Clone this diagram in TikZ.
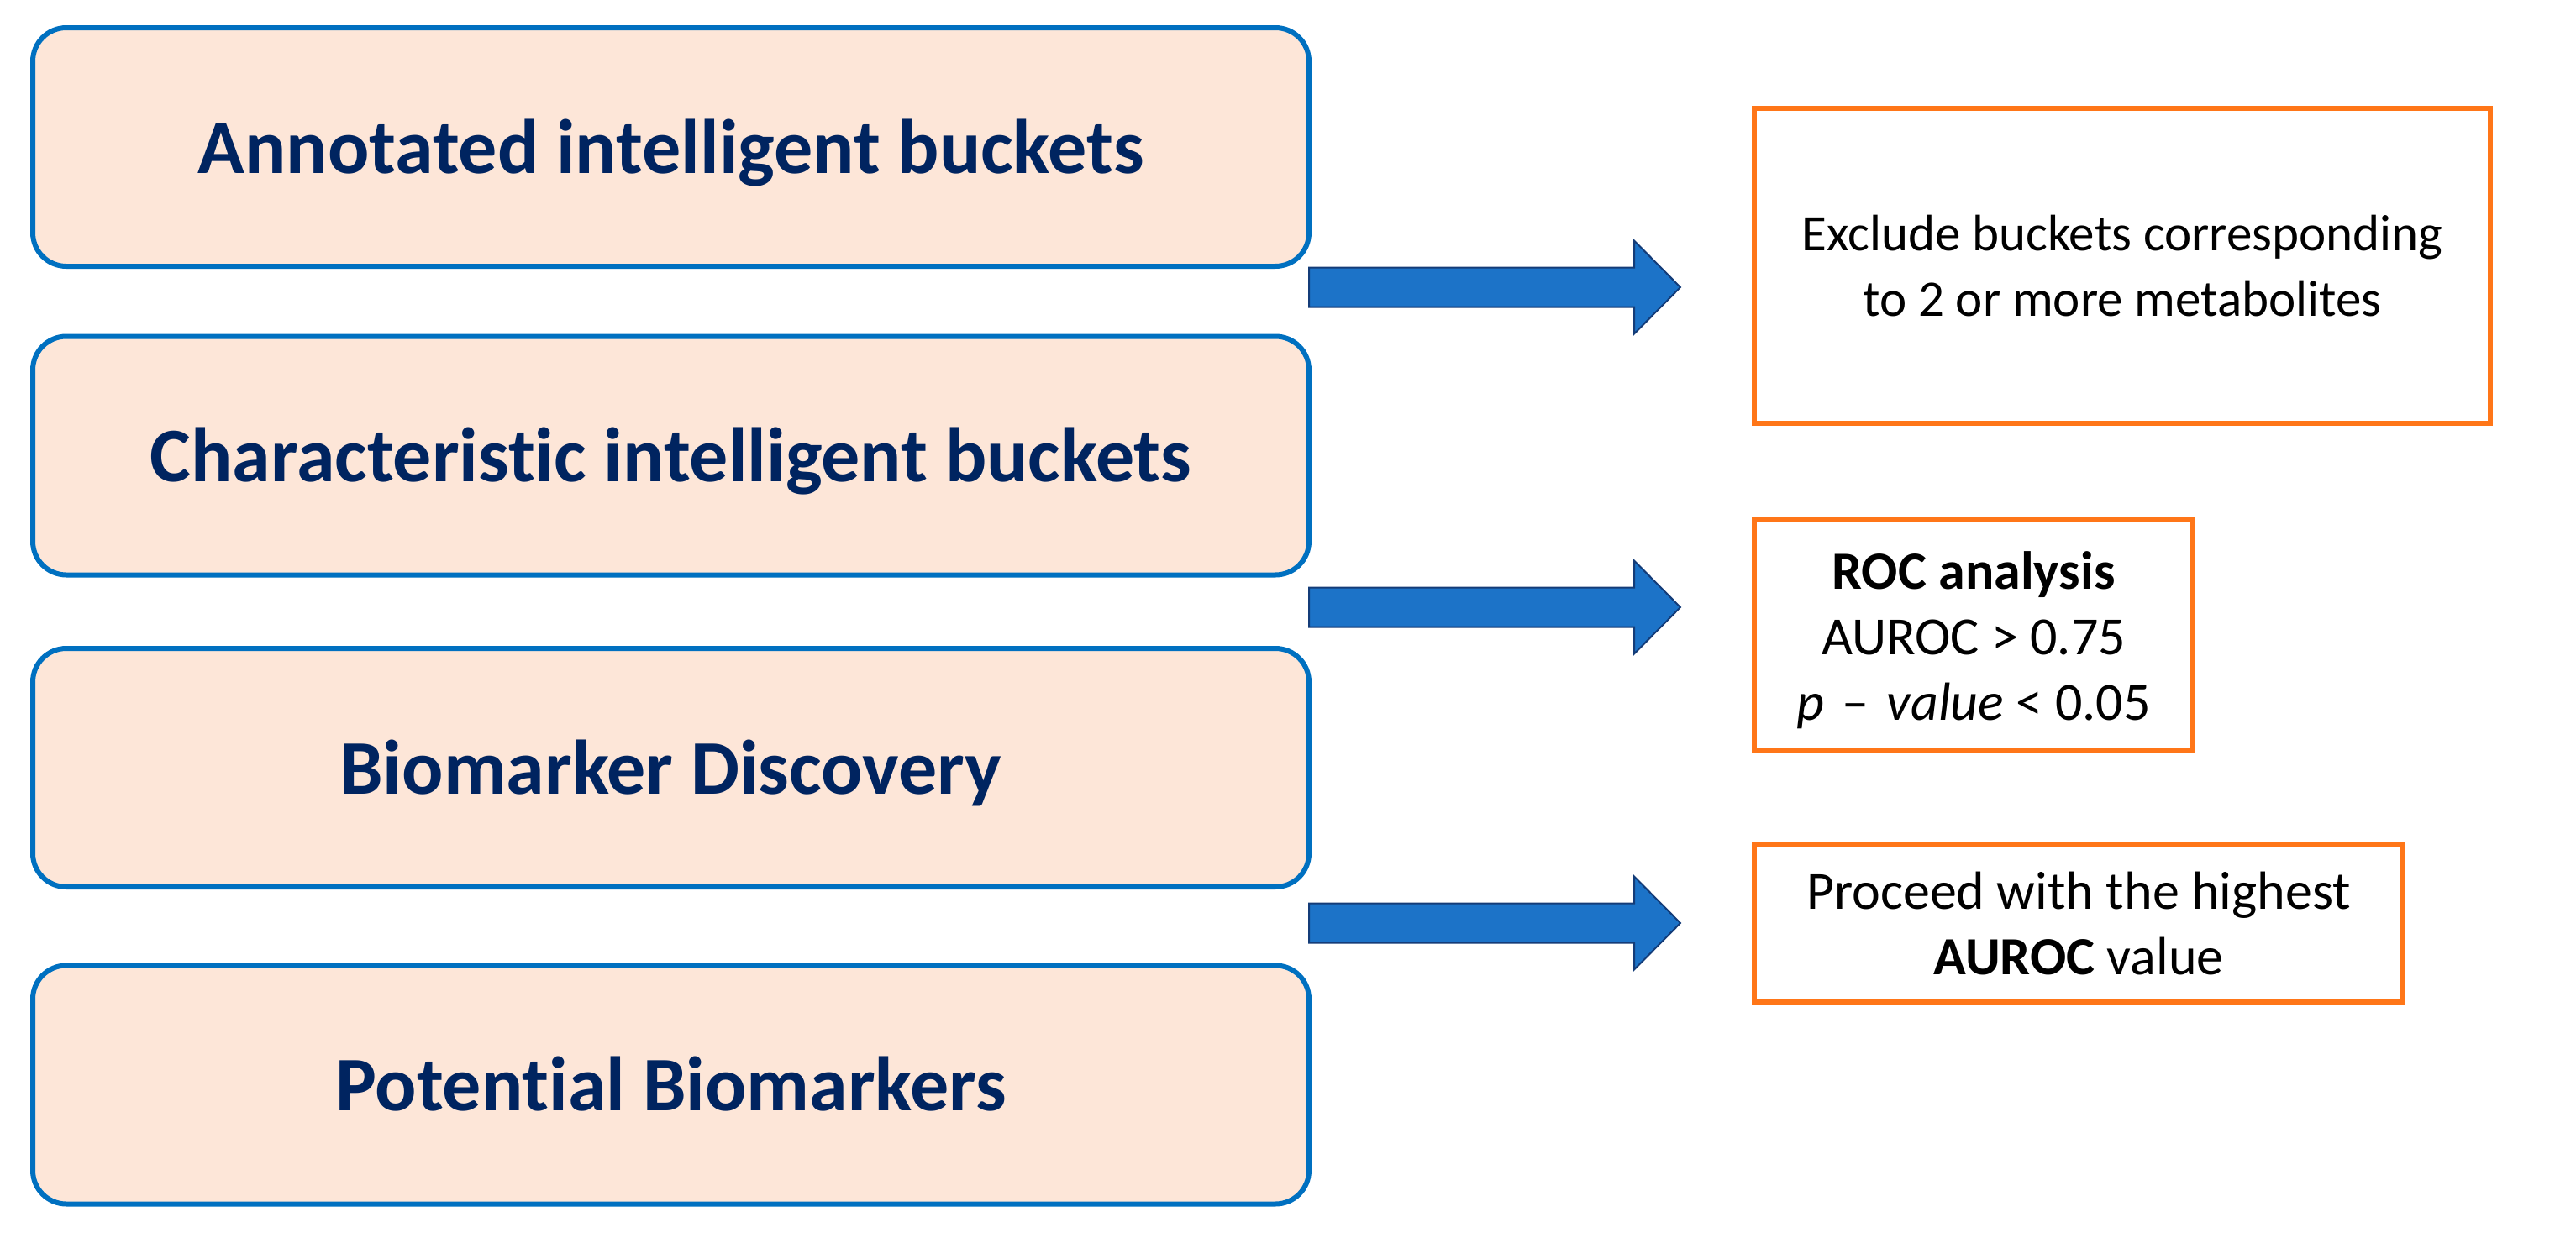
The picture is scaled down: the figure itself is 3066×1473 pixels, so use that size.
\documentclass[tikz,border=0pt]{standalone}
\usepackage{fontspec}
\setmainfont{Carlito}[Ligatures=NoCommon]
\definecolor{boxblue}{RGB}{0,112,192}
\definecolor{boxfill}{RGB}{253,230,216}
\definecolor{navy}{RGB}{0,36,96}
\definecolor{orng}{RGB}{255,118,24}
\definecolor{arrfill}{RGB}{28,115,200}
\definecolor{arrline}{RGB}{20,60,120}
\begin{document}
\begin{tikzpicture}[x=1pt,y=-1pt,
  stagebox/.style={draw=boxblue, line width=6pt, fill=boxfill, rounded corners=40pt,
    minimum width=1519pt, minimum height=284pt, inner sep=0pt, text=navy,
    text height=76pt, text depth=14pt,
    font=\fontsize{92}{110}\selectfont\bfseries},
  notebox/.style={draw=orng, line width=6pt, fill=white, inner sep=0pt, align=center,
    font=\fontsize{64}{78}\selectfont},
  blockarrow/.style={fill=arrfill, draw=arrline, line width=2pt}]
\useasboundingbox (0,0) rectangle (3066,1473);
\node[stagebox] (s1) at (798.5,175) {Annotated intelligent buckets};
\node[stagebox] (s2) at (798.5,542.5) {Characteristic intelligent buckets};
\node[stagebox] (s3) at (798.5,914) {Biomarker Discovery};
\node[stagebox] (s4) at (798.5,1291.5) {Potential Biomarkers};
\node[notebox, minimum width=876pt, minimum height=375pt, font=\fontsize{61}{78}\selectfont] (n1) at (2526,316.5)
  {Exclude buckets corresponding\\to 2 or more metabolites};
\node[notebox, minimum width=522pt, minimum height=275pt] (n2) at (2349,755.5)
  {\rule{0pt}{58pt}\textbf{ROC analysis}\\AUROC > 0.75\\\textit{p}\,\,–\,\,\textit{value} < 0.05};
\node[notebox, minimum width=772pt, minimum height=188pt] (n3) at (2474,1099)
  {Proceed with the highest\\\textbf{AUROC} value};
\foreach \c/\nm in {342/a1,723/a2,1099/a3}{
  \coordinate (\nm s) at (1558,\c);
  \fill[blockarrow] (\nm s) ++(0,-23.5) -- ++(387,0) -- ++(0,-32) -- (2000,\c) -- (1945,\c+55.5) -- ++(0,-32) -- ++(-387,0) -- cycle;
}
\end{tikzpicture}
\end{document}
